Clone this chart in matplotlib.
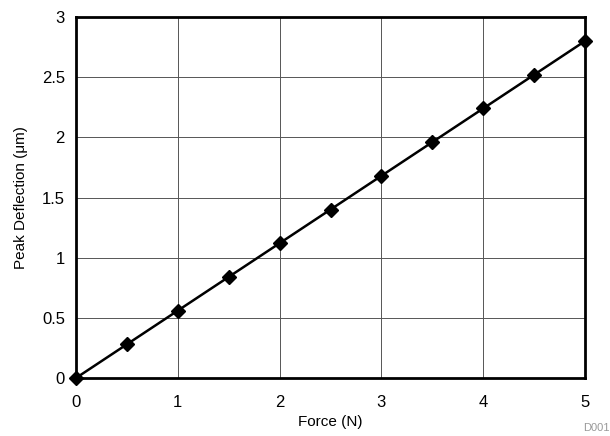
import matplotlib
matplotlib.use("Agg")
import matplotlib.pyplot as plt

plt.rcParams['font.family'] = ['Liberation Sans', 'DejaVu Sans']

force = [0, 0.5, 1, 1.5, 2, 2.5, 3, 3.5, 4, 4.5, 5]
deflection = [0, 0.28, 0.56, 0.84, 1.12, 1.40, 1.68, 1.96, 2.24, 2.52, 2.80]
xticks = [0, 1, 2, 3, 4, 5]
yticks = [0, 0.5, 1, 1.5, 2, 2.5, 3]
yticklabels = ['0', '0.5', '1', '1.5', '2', '2.5', '3']

fig = plt.figure(figsize=(6.1, 4.36), dpi=100)
ax = fig.add_axes([76/610, 58/436, 509/610, 361/436])
ax.plot(force, deflection, color='black', lw=1.8, marker='D', markersize=7,
        clip_on=False, zorder=3)
ax.set_xlim(0, 5)
ax.set_ylim(0, 3)
ax.set_xticks(xticks)
ax.set_yticks(yticks)
ax.set_yticklabels(yticklabels)
ax.grid(True, color='#555555', lw=0.7)
ax.tick_params(length=0, labelsize=12)
ax.tick_params(axis='x', pad=12)
ax.tick_params(axis='y', pad=8)
for s in ax.spines.values():
    s.set_linewidth(2)
ax.set_xlabel('Force (N)', fontsize=11, labelpad=4)
ax.set_ylabel('Peak Deflection (μm)', fontsize=11, labelpad=10)
fig.text(583/610, 3/436, 'D001', fontsize=8, color='#999999', ha='left', va='bottom')
fig.savefig('out.png', dpi=100)
